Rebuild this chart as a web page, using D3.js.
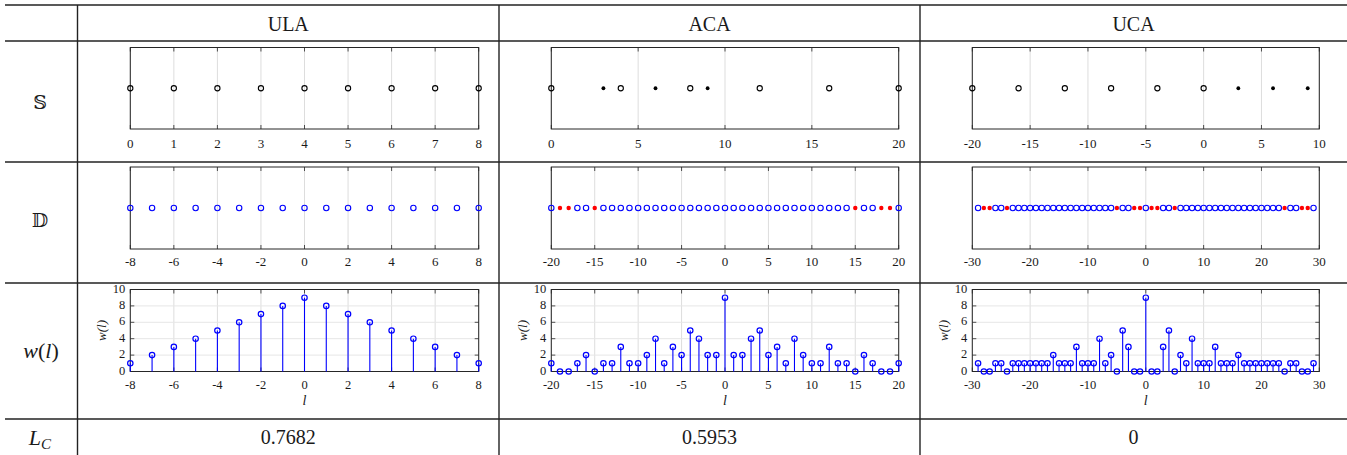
<!DOCTYPE html>
<html><head><meta charset="utf-8">
<script src="https://cdn.jsdelivr.net/npm/d3@7"></script>
<style>
body{margin:0;background:#fff}
svg text{font-family:"Liberation Serif","Times New Roman",Tinos,"DejaVu Serif",serif;fill:#1a1a1a}
</style>
</head><body>
<svg id="c" width="1347" height="455" font-family="Liberation Serif, Times New Roman, DejaVu Serif, serif"></svg>
<script>
// ---------------- data ----------------
const columns = ["ULA", "ACA", "UCA"];
const lcValues = ["0.7682", "0.5953", "0"];

const ulaSensors = [0, 1, 2, 3, 4, 5, 6, 7, 8];
const ulaExtra = [];
const acaSensors = [0, 4, 8, 12, 16, 20];
const acaExtra = [3, 6, 9];
const ucaSensors = [-20, -16, -12, -8, -4, 0];
const ucaExtra = [3, 6, 9];

const ulaSTicks = [0, 1, 2, 3, 4, 5, 6, 7, 8];
const acaSTicks = [0, 5, 10, 15, 20];
const ucaSTicks = [-20, -15, -10, -5, 0, 5, 10];

const ulaLags = [-8,-7,-6,-5,-4,-3,-2,-1,0,1,2,3,4,5,6,7,8];
const ulaWeights = [1,2,3,4,5,6,7,8,9,8,7,6,5,4,3,2,1];

const acaLags = [-20,-19,-18,-17,-16,-15,-14,-13,-12,-11,-10,-9,-8,-7,-6,-5,-4,-3,-2,-1,0,
                 1,2,3,4,5,6,7,8,9,10,11,12,13,14,15,16,17,18,19,20];
const acaWeights = [1,0,0,1,2,0,1,1,3,1,1,2,4,1,3,2,5,4,2,2,9,
                    2,2,4,5,2,3,1,4,2,1,1,3,1,1,0,2,1,0,0,1];

const ucaLags = [-29,-28,-27,-26,-25,-24,-23,-22,-21,-20,-19,-18,-17,-16,-15,-14,-13,-12,-11,-10,
                 -9,-8,-7,-6,-5,-4,-3,-2,-1,0,1,2,3,4,5,6,7,8,9,
                 10,11,12,13,14,15,16,17,18,19,20,21,22,23,24,25,26,27,28,29];
const ucaWeights = [1,0,0,1,1,0,1,1,1,1,1,1,1,2,1,1,1,3,1,1,
                    1,4,1,2,0,5,3,0,0,9,0,0,3,5,0,2,1,4,1,
                    1,1,3,1,1,1,2,1,1,1,1,1,1,1,0,1,1,0,0,1];

const ulaLagTicks = [-8,-6,-4,-2,0,2,4,6,8];
const acaLagTicks = [-20,-15,-10,-5,0,5,10,15,20];
const ucaLagTicks = [-30,-20,-10,0,10,20,30];
const wTicks = [0, 2, 4, 6, 8, 10];

const sDomains = [[0, 8], [0, 20], [-20, 10]];
const dDomains = [[-8, 8], [-20, 20], [-30, 30]];
const wDomain = [0, 10];

// ---------------- layout ----------------
const svg = d3.select("#c");
const colLines = [77.5, 499, 920];
const rowLines = [5, 41, 162, 283, 419];
const boxX = [[130.3, 478.7], [551.3, 898.7], [972.3, 1319.3]];
const sBox = [47.5, 129], dBox = [167, 249], wBox = [289.5, 371.5];

const cols = [
  {sensors: ulaSensors, extra: ulaExtra, sTicks: ulaSTicks, lags: ulaLags, w: ulaWeights, lagTicks: ulaLagTicks},
  {sensors: acaSensors, extra: acaExtra, sTicks: acaSTicks, lags: acaLags, w: acaWeights, lagTicks: acaLagTicks},
  {sensors: ucaSensors, extra: ucaExtra, sTicks: ucaSTicks, lags: ucaLags, w: ucaWeights, lagTicks: ucaLagTicks}
];

const gridCol = "#dddddd", axCol = "#262626";

function frame(g, x, yr, ticks, labelY, fs, yScale, yTicks) {
  const [x0, x1] = x.range();
  const [y0, y1] = yr;
  g.selectAll(".vg").data(ticks).join("line")
    .attr("x1", d => x(d)).attr("x2", d => x(d))
    .attr("y1", y0).attr("y2", y1)
    .attr("stroke", gridCol).attr("stroke-width", 1);
  if (yScale) {
    g.selectAll(".hg").data(yTicks).join("line").attr("class","hg")
      .attr("x1", x0).attr("x2", x1)
      .attr("y1", d => yScale(d)).attr("y2", d => yScale(d))
      .attr("stroke", "#e6e6e6").attr("stroke-width", 1);
  }
  ticks.forEach(t => {
    g.append("line").attr("x1", x(t)).attr("x2", x(t)).attr("y1", y1).attr("y2", y1 - 4)
      .attr("stroke", axCol).attr("stroke-width", 0.8);
    g.append("line").attr("x1", x(t)).attr("x2", x(t)).attr("y1", y0).attr("y2", y0 + 4)
      .attr("stroke", axCol).attr("stroke-width", 0.8);
  });
  if (yScale) {
    yTicks.forEach(t => {
      g.append("line").attr("x1", x0).attr("x2", x0 + 4).attr("y1", yScale(t)).attr("y2", yScale(t))
        .attr("stroke", axCol).attr("stroke-width", 0.8);
      g.append("line").attr("x1", x1).attr("x2", x1 - 4).attr("y1", yScale(t)).attr("y2", yScale(t))
        .attr("stroke", axCol).attr("stroke-width", 0.8);
    });
    g.selectAll(".yl").data(yTicks).join("text").attr("class","yl")
      .attr("x", x0 - 5).attr("y", d => yScale(d) + 3)
      .attr("text-anchor", "end").attr("font-size", fs).text(d => d);
  }
  g.append("rect").attr("x", x0).attr("y", y0).attr("width", x1 - x0).attr("height", y1 - y0)
    .attr("fill", "none").attr("stroke", axCol).attr("stroke-width", 1);
  g.selectAll(".xl").data(ticks).join("text").attr("class","xl")
    .attr("x", d => x(d)).attr("y", labelY)
    .attr("text-anchor", "middle").attr("font-size", fs).text(d => d);
}

cols.forEach((c, i) => {
  // ---- S row ----
  const xs = d3.scaleLinear().domain(sDomains[i]).range(boxX[i]);
  const gs = svg.append("g");
  frame(gs, xs, sBox, c.sTicks, 148, 13);
  const ym = (sBox[0] + sBox[1]) / 2;
  gs.selectAll(".so").data(c.sensors).join("circle")
    .attr("cx", d => xs(d)).attr("cy", ym).attr("r", 2.6)
    .attr("fill", "none").attr("stroke", "#000").attr("stroke-width", 1.1);
  gs.selectAll(".sf").data(c.extra).join("circle")
    .attr("cx", d => xs(d)).attr("cy", ym).attr("r", 1.9)
    .attr("fill", "#000");

  // ---- D row ----
  const xd = d3.scaleLinear().domain(dDomains[i]).range(boxX[i]);
  const gd = svg.append("g");
  frame(gd, xd, dBox, c.lagTicks, 266, 13);
  const yd = (dBox[0] + dBox[1]) / 2;
  const pts = c.lags.map((l, k) => ({l, w: c.w[k]}));
  gd.selectAll(".dp").data(pts.filter(p => p.w > 0)).join("circle")
    .attr("cx", d => xd(d.l)).attr("cy", yd).attr("r", 2.7)
    .attr("fill", "none").attr("stroke", "#0000ff").attr("stroke-width", 1.1);
  gd.selectAll(".dh").data(pts.filter(p => p.w === 0)).join("circle")
    .attr("cx", d => xd(d.l)).attr("cy", yd).attr("r", 2.2)
    .attr("fill", "#ff0000");

  // ---- w row ----
  const yw = d3.scaleLinear().domain(wDomain).range([wBox[1], wBox[0]]);
  const gw = svg.append("g");
  frame(gw, xd, wBox, c.lagTicks, 389, 12.5, yw, wTicks);
  gw.selectAll(".st").data(pts).join("line")
    .attr("x1", d => xd(d.l)).attr("x2", d => xd(d.l))
    .attr("y1", yw(0)).attr("y2", d => yw(d.w))
    .attr("stroke", "#0000ff").attr("stroke-width", 1.1);
  gw.selectAll(".sm").data(pts).join("circle")
    .attr("cx", d => xd(d.l)).attr("cy", d => yw(d.w)).attr("r", 2.7)
    .attr("fill", "none").attr("stroke", "#0000ff").attr("stroke-width", 1.2);
  const cx = (boxX[i][0] + boxX[i][1]) / 2;
  gw.append("text").attr("x", cx).attr("y", 405).attr("text-anchor", "middle")
    .attr("font-size", 14).attr("font-style", "italic").text("l");
  gw.append("text").attr("transform", `translate(${boxX[i][0] - 24},${(wBox[0] + wBox[1]) / 2}) rotate(-90)`)
    .attr("text-anchor", "middle").attr("font-size", 13).attr("font-style", "italic").text("w(l)");

  const cellC = (colLines[i] + (i < 2 ? colLines[i + 1] : 1347)) / 2;
  svg.append("text").attr("x", cellC).attr("y", 31).attr("text-anchor", "middle")
    .attr("font-size", 20).text(columns[i]);
  svg.append("text").attr("x", cellC).attr("y", 444).attr("text-anchor", "middle")
    .attr("font-size", 20).text(lcValues[i]);
});

// ---- row labels ----
svg.append("text").attr("x", 40).attr("y", 109).attr("text-anchor", "middle")
  .style("font-family", "'DejaVu Serif','DejaVu Sans'").attr("font-size", 19).text("\u{1D54A}");
svg.append("text").attr("x", 40).attr("y", 227).attr("text-anchor", "middle")
  .style("font-family", "'DejaVu Serif','DejaVu Sans'").attr("font-size", 19).text("\u{1D53B}");
const wl = svg.append("text").attr("x", 41).attr("y", 358).attr("text-anchor", "middle").attr("font-size", 22);
wl.append("tspan").attr("font-style", "italic").text("w");
wl.append("tspan").text("(");
wl.append("tspan").attr("font-style", "italic").text("l");
wl.append("tspan").text(")");
const lc = svg.append("text").attr("x", 40).attr("y", 445).attr("text-anchor", "middle").attr("font-size", 22);
lc.append("tspan").attr("font-style", "italic").text("L");
lc.append("tspan").attr("font-style", "italic").attr("font-size", 15).attr("dy", 4).text("C");

// ---- table lines ----
rowLines.forEach(y => svg.append("line").attr("x1", 5).attr("x2", 1347).attr("y1", y).attr("y2", y)
  .attr("stroke", "#222").attr("stroke-width", 1.4));
colLines.forEach(x => svg.append("line").attr("x1", x).attr("x2", x).attr("y1", 5).attr("y2", 455)
  .attr("stroke", "#222").attr("stroke-width", 1.4));
</script>
</body></html>
